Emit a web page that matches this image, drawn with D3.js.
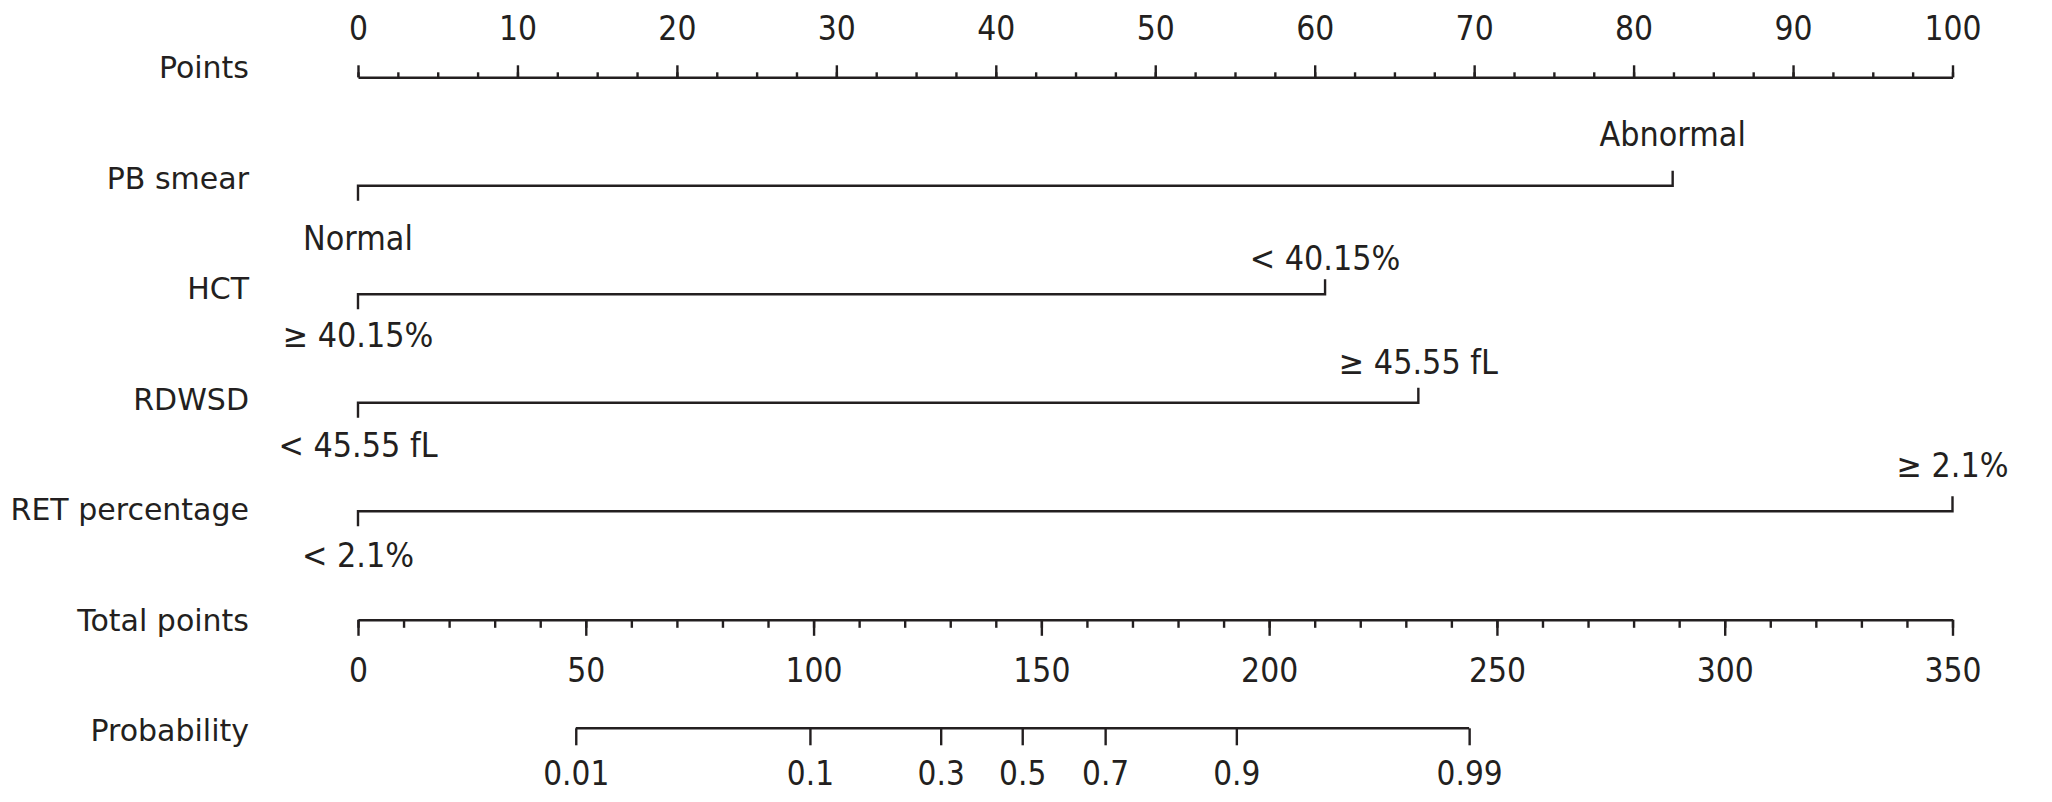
<!DOCTYPE html>
<html>
<head>
<meta charset="utf-8">
<script src="https://cdn.jsdelivr.net/npm/d3@7"></script>
<style>
  html, body { margin: 0; padding: 0; background: #ffffff; }
  svg { display: block; }
  text { font-family: "DejaVu Sans", Verdana, sans-serif; fill: #231f20; }
</style>
</head>
<body>
<svg id="chart" width="2052" height="802"></svg>
<script>
// ---------------- data ----------------
const rowLabels = ["Points", "PB smear", "HCT", "RDWSD", "RET percentage", "Total points", "Probability"];

const pointsTicks = [0, 10, 20, 30, 40, 50, 60, 70, 80, 90, 100];
const pointsMinorStep = 2.5;

const variableNames = ["PB smear", "HCT", "RDWSD", "RET percentage"];
const variableMaxPoints = [82.45, 60.65, 66.5, 100];
const levelAtZero = ["Normal", "≥ 40.15%", "< 45.55 fL", "< 2.1%"];
const levelAtMax = ["Abnormal", "< 40.15%", "≥ 45.55 fL", "≥ 2.1%"];

const totalPointsTicks = [0, 50, 100, 150, 200, 250, 300, 350];
const totalPointsMinorStep = 10;

const probabilityLabels = ["0.01", "0.1", "0.3", "0.5", "0.7", "0.9", "0.99"];
const probabilityTotalPoints = [47.8, 99.2, 127.9, 145.8, 164.0, 192.8, 243.9];

// ---------------- layout ----------------
const xLeft = 358, xRight = 1952.5;
const ink = "#231f20";
const strokeW = 2.4;
const labelAbove = [-40, -24, -29, -34];   // baseline offset of max-level label
const labelBelow = [64, 53, 54, 56];       // baseline offset of zero-level label

const svg = d3.select("#chart");

const xPoints = d3.scaleLinear().domain([0, 100]).range([xLeft, xRight]);
const xTotal = d3.scaleLinear().domain([0, 350]).range([xLeft, xRight]);

const yLine = d3.scalePoint().domain(rowLabels).range([77.3, 728.3]);
const yLabel = d3.scalePoint().domain(rowLabels).range([78, 741]);

// row labels
svg.append("g").selectAll("text")
  .data(rowLabels).join("text")
  .attr("x", 249)
  .attr("y", d => yLabel(d))
  .attr("text-anchor", "end")
  .attr("font-size", 30)
  .text(d => d);

function styleAxis(g) {
  g.selectAll("path.domain").attr("stroke", ink).attr("stroke-width", strokeW);
  g.selectAll(".tick line").attr("stroke", ink).attr("stroke-width", strokeW);
}

// Points axis (ticks upward)
const gPts = svg.append("g").attr("transform", `translate(0,${yLine("Points")})`);
gPts.append("g")
  .call(d3.axisTop(xPoints).tickValues(d3.range(0, 100.001, pointsMinorStep)).tickSize(5).tickSizeOuter(0).tickFormat(""))
  .call(styleAxis);
gPts.append("g")
  .call(d3.axisTop(xPoints).tickValues(pointsTicks).tickSize(12).tickSizeOuter(0).tickFormat(d3.format("d")))
  .call(styleAxis)
  .call(g => g.select("path.domain").remove())
  .call(g => g.selectAll(".tick text")
    .attr("y", -37).attr("dy", 0)
    .attr("font-size", 34)
    .attr("font-family", "DejaVu Sans")
    .attr("fill", ink)
    .attr("transform", "scale(0.88,1)"));

// variable rows
variableNames.forEach((name, i) => {
  const y = yLine(name);
  const x0 = xPoints(0), x1 = xPoints(variableMaxPoints[i]);
  const g = svg.append("g");
  g.append("path")
    .attr("d", d3.line()([[x0, y + 15], [x0, y], [x1, y], [x1, y - 15]]))
    .attr("fill", "none")
    .attr("stroke", ink)
    .attr("stroke-width", strokeW)
    .attr("stroke-linejoin", "miter");
  g.append("text")
    .attr("transform", `translate(${x0},${y + labelBelow[i]}) scale(0.92,1)`)
    .attr("text-anchor", "middle")
    .attr("font-size", 33)
    .text(levelAtZero[i]);
  g.append("text")
    .attr("transform", `translate(${x1},${y + labelAbove[i]}) scale(0.92,1)`)
    .attr("text-anchor", "middle")
    .attr("font-size", 33)
    .text(levelAtMax[i]);
});

// Total points axis (ticks downward)
const gTot = svg.append("g").attr("transform", `translate(0,${yLine("Total points")})`);
gTot.append("g")
  .call(d3.axisBottom(xTotal).tickValues(d3.range(0, 350.001, totalPointsMinorStep)).tickSize(8).tickSizeOuter(0).tickFormat(""))
  .call(styleAxis);
gTot.append("g")
  .call(d3.axisBottom(xTotal).tickValues(totalPointsTicks).tickSize(16).tickSizeOuter(0).tickFormat(d3.format("d")))
  .call(styleAxis)
  .call(g => g.select("path.domain").remove())
  .call(g => g.selectAll(".tick text")
    .attr("y", 62).attr("dy", 0)
    .attr("font-size", 34)
    .attr("font-family", "DejaVu Sans")
    .attr("fill", ink)
    .attr("transform", "scale(0.88,1)"));

// Probability axis
const gProb = svg.append("g").attr("transform", `translate(0,${yLine("Probability")})`);
gProb.append("line")
  .attr("x1", xTotal(probabilityTotalPoints[0]))
  .attr("x2", xTotal(probabilityTotalPoints[probabilityTotalPoints.length - 1]))
  .attr("y1", 0).attr("y2", 0)
  .attr("stroke", ink).attr("stroke-width", strokeW);
gProb.append("g")
  .call(d3.axisBottom(xTotal).tickValues(probabilityTotalPoints).tickSize(17).tickSizeOuter(0)
    .tickFormat((d, i) => probabilityLabels[i]))
  .call(styleAxis)
  .call(g => g.select("path.domain").remove())
  .call(g => g.selectAll(".tick text")
    .attr("y", 57).attr("dy", 0)
    .attr("font-size", 33)
    .attr("font-family", "DejaVu Sans")
    .attr("fill", ink)
    .attr("transform", "scale(0.9,1)"));
</script>
</body>
</html>
